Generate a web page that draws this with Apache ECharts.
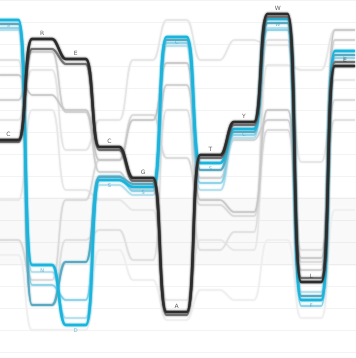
<!DOCTYPE html>
<html><head><meta charset="utf-8">
<script src="https://cdn.jsdelivr.net/npm/echarts@6/dist/echarts.min.js"></script>
<style>html,body{margin:0;padding:0;background:#fff}#c{width:356px;height:358px}</style>
</head><body><div id="c"></div>
<script>
// positions along the sequence (columns)
const positions = [0,1,2,3,4,5,6,7,8,9,10];
const residues  = ['C','R','E','C','G','A','T','Y','W','L','E'];
const altResidues = ['S','N','D','S','S','C','S','C','W','F','C'];
// vertical level of each sequence at each position (0 = top)
const seqMain   = [140, 39, 59, 147, 178, 312, 155, 122, 14, 282, 66];
const seqDark   = [142, 49, 64, 150, 181, 315, 158, 125, 17, 278, 62];
const seqCyanA  = [20, 265, 325, 180, 187, 37, 163, 129, 19, 300, 51];
const seqCyanB  = [24, 305, 262, 177, 184, 40, 170, 132, 23, 296, 55];
const seqCyanC  = [28, 285, 300, 176, 191, 43, 183, 135, 30, 306, 58];
const seqBlueD  = [30, 272, 318, 185, 195, 46, 190, 138, 28, 292, 62];
const seqGrayA  = [75, 95, 110, 160, 120, 63, 200, 212, 110, 258, 30];
const seqGrayB  = [100, 52, 112, 172, 190, 85, 178, 140, 120, 270, 40];
const seqGrayC  = [240, 280, 200, 160, 115, 158, 205, 216, 130, 262, 100];
const seqGrayD  = [60, 305, 240, 230, 260, 110, 250, 232, 40, 250, 120];
const seqGrayE  = [120, 70, 150, 120, 60, 20, 60, 40, 45, 162, 80];
const seqGrayF  = [200, 110, 190, 200, 210, 300, 240, 250, 65, 70, 30];
const seqGrayG  = [255, 330, 330, 250, 280, 320, 290, 300, 240, 318, 210];
const bandLevels = [197, 266];

const HW = 0.3;
function plateau(vals){
  const d = [];
  vals.forEach((v,i)=>{
    d.push([positions[i]-HW, v]);
    d.push([positions[i]+HW, v]);
  });
  return d;
}
function line(vals, color, width, z){
  return {type:'line', data: plateau(vals), smooth:0.28, symbol:'none', z:z||2,
    lineStyle:{color:color, width:width, shadowColor:color, shadowBlur:2}, silent:true};
}
const chart = echarts.init(document.getElementById('c'));
chart.setOption({
  animation:false,
  grid:{left:0,right:0,top:0,bottom:0},
  xAxis:{type:'value', min:-0.25, max:10.33, show:false},
  yAxis:{type:'value', min:0, max:358, inverse:true, interval:22,
    axisLine:{show:false}, axisTick:{show:false}, axisLabel:{show:false},
    splitLine:{lineStyle:{color:'#f3f3f3', width:1}}},
  series:[
    Object.assign(line(seqGrayG,'#efefef',1.5,1),{markArea:{silent:true,itemStyle:{color:'rgba(0,0,0,0.025)'},data:[[{yAxis:bandLevels[0]},{yAxis:bandLevels[1]}]]}}),
    line(seqGrayF,'#e8e8e8',1.5,1),
    line(seqGrayE,'#e6e6e6',1.5,1),
    line(seqGrayD,'#e0e0e0',1.5,1),
    line(seqGrayC,'#dadada',1.5,1),
    line(seqGrayB,'#cfcfcf',1.5,1),
    line(seqGrayA,'#c8c8c8',1.5,1),
    line(seqBlueD,'#b3dded',1.5,2),
    line(seqCyanC,'#86cfe6',1.5,2),
    line(seqCyanB,'#5aa9c0',2,3),
    line(seqCyanA,'#1ab4dc',2.5,3),
    line(seqDark,'#727272',2,4),
    line(seqMain,'#2c2c2c',2.5,5),
    {type:'scatter', symbolSize:0, z:6, silent:true,
      data: positions.map(i=>[i, seqMain[i]]),
      label:{show:true, position:'top', distance:3, fontSize:6, fontFamily:'DejaVu Sans', color:'#333',
        formatter:p=>residues[p.dataIndex]}},
    {type:'scatter', symbolSize:0, z:6, silent:true,
      data: positions.map(i=>[i, seqCyanA[i]]),
      label:{show:true, position:'bottom', distance:3, fontSize:5, fontFamily:'DejaVu Sans', color:'#4aa7c4',
        formatter:p=>altResidues[p.dataIndex]}}
  ]
});
</script></body></html>
